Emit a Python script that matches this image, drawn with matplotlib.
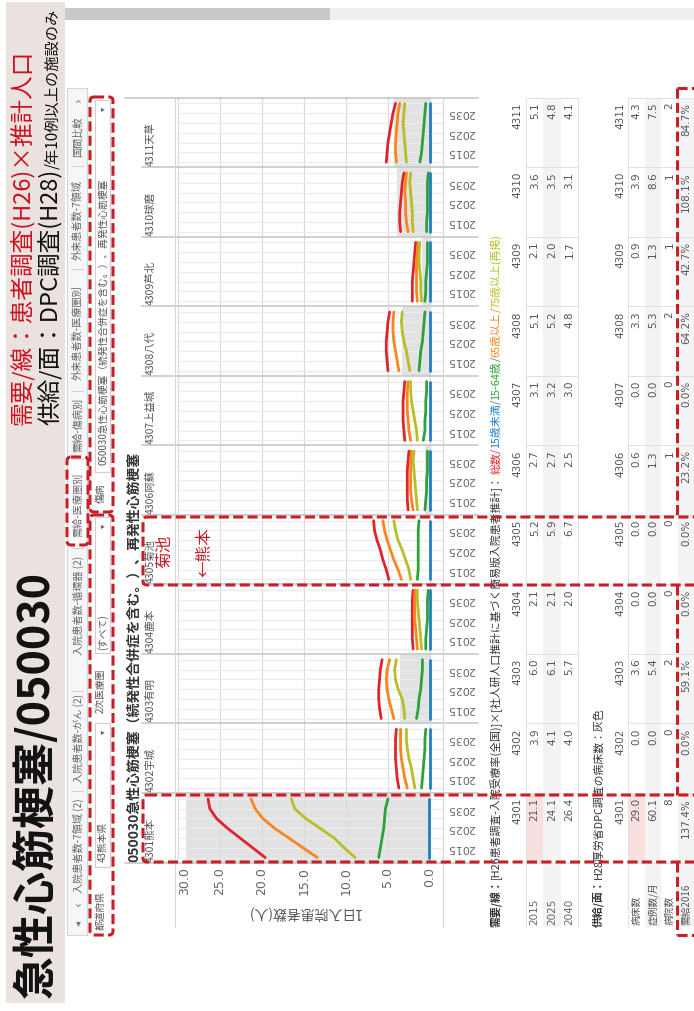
import matplotlib
matplotlib.use('Agg')
import matplotlib.pyplot as plt
from matplotlib.patches import Rectangle, FancyBboxPatch

plt.rcParams['font.family'] = ['Noto Sans CJK JP', 'DejaVu Sans']

W, H = 694, 1011

# ---- data ----
years = [2010, 2015, 2020, 2025, 2030, 2035, 2040]
label_years = [2015, 2025, 2035]
table_years = [2015, 2025, 2040]

area_codes = ['4301', '4302', '4303', '4304', '4305', '4306', '4307', '4308', '4309', '4310', '4311']
area_names = ['熊本', '宇城', '有明', '鹿本', '菊池', '阿蘇', '上益城', '八代', '芦北', '球磨', '天草']
highlight_area = '4301'

# 1日入院患者数 (推計) per area, per year
total = [
    [19.6, 21.1, 22.6, 24.1, 25.4, 26.2, 26.4],
    [3.7, 3.9, 4.0, 4.1, 4.1, 4.1, 4.0],
    [5.8, 6.0, 6.1, 6.1, 6.0, 5.9, 5.7],
    [2.0, 2.1, 2.1, 2.1, 2.1, 2.1, 2.0],
    [4.9, 5.2, 5.6, 5.9, 6.3, 6.6, 6.7],
    [2.6, 2.7, 2.7, 2.7, 2.7, 2.6, 2.5],
    [3.0, 3.1, 3.2, 3.2, 3.2, 3.1, 3.0],
    [5.0, 5.1, 5.2, 5.2, 5.1, 5.0, 4.8],
    [2.1, 2.1, 2.1, 2.0, 1.9, 1.8, 1.7],
    [3.5, 3.6, 3.6, 3.5, 3.4, 3.3, 3.1],
    [5.2, 5.1, 5.0, 4.8, 4.6, 4.4, 4.1],
]
over65 = [
    [13.4, 15.1, 16.8, 18.5, 19.9, 20.8, 21.3],
    [2.7, 3.0, 3.2, 3.4, 3.5, 3.5, 3.5],
    [4.3, 4.6, 4.9, 5.1, 5.2, 5.1, 4.8],
    [1.5, 1.6, 1.7, 1.8, 1.8, 1.8, 1.8],
    [3.4, 3.8, 4.3, 4.7, 5.1, 5.4, 5.6],
    [2.0, 2.2, 2.3, 2.3, 2.3, 2.3, 2.2],
    [2.3, 2.5, 2.6, 2.7, 2.7, 2.7, 2.6],
    [3.7, 3.9, 4.1, 4.3, 4.4, 4.4, 4.3],
    [1.5, 1.6, 1.6, 1.6, 1.6, 1.5, 1.4],
    [2.6, 2.8, 2.9, 2.9, 3.0, 2.9, 2.8],
    [4.0, 4.1, 4.1, 4.0, 3.9, 3.8, 3.6],
]
over75 = [
    [8.9, 10.2, 11.4, 13.1, 14.8, 16.1, 16.5],
    [1.8, 2.0, 2.2, 2.5, 2.7, 2.8, 2.8],
    [3.0, 3.1, 3.3, 3.8, 4.1, 4.2, 4.0],
    [1.0, 1.1, 1.2, 1.3, 1.4, 1.5, 1.5],
    [2.3, 2.5, 2.9, 3.3, 3.8, 4.1, 4.3],
    [1.5, 1.6, 1.7, 1.8, 1.9, 2.0, 1.9],
    [1.5, 1.6, 1.8, 2.0, 2.2, 2.3, 2.3],
    [2.4, 2.6, 2.8, 3.1, 3.3, 3.4, 3.3],
    [1.0, 1.1, 1.1, 1.2, 1.3, 1.3, 1.2],
    [2.0, 2.1, 2.1, 2.2, 2.3, 2.4, 2.3],
    [2.8, 2.9, 3.0, 3.1, 3.2, 3.1, 3.0],
]
age15_64 = [
    [6.1, 5.9, 5.7, 5.5, 5.4, 5.3, 5.0],
    [1.0, 0.9, 0.8, 0.7, 0.6, 0.6, 0.5],
    [1.6, 1.4, 1.3, 1.1, 1.0, 0.9, 0.9],
    [0.5, 0.5, 0.4, 0.3, 0.3, 0.3, 0.2],
    [1.5, 1.4, 1.4, 1.4, 1.4, 1.4, 1.3],
    [0.6, 0.5, 0.4, 0.4, 0.3, 0.3, 0.3],
    [0.8, 0.6, 0.6, 0.5, 0.5, 0.4, 0.4],
    [1.3, 1.2, 1.1, 0.9, 0.8, 0.7, 0.6],
    [0.6, 0.5, 0.5, 0.4, 0.3, 0.3, 0.3],
    [0.4, 0.4, 0.3, 0.3, 0.3, 0.3, 0.2],
    [1.2, 1.0, 0.9, 0.8, 0.7, 0.6, 0.5],
]
under15 = [
    [0.1, 0.1, 0.1, 0.1, 0.1, 0.1, 0.1],
    [0.02, 0.02, 0.02, 0.02, 0.02, 0.02, 0.02],
    [0.05, 0.05, 0.05, 0.05, 0.05, 0.05, 0.05],
    [0.03, 0.03, 0.03, 0.03, 0.03, 0.03, 0.03],
    [0.05, 0.05, 0.05, 0.05, 0.05, 0.05, 0.05],
    [0.02, 0.02, 0.02, 0.02, 0.02, 0.02, 0.02],
    [0.03, 0.03, 0.03, 0.03, 0.03, 0.03, 0.03],
    [0.05, 0.05, 0.05, 0.05, 0.05, 0.05, 0.05],
    [0.02, 0.02, 0.02, 0.02, 0.02, 0.02, 0.02],
    [0.02, 0.02, 0.02, 0.02, 0.02, 0.02, 0.02],
    [0.05, 0.05, 0.05, 0.05, 0.05, 0.05, 0.05],
]

# 供給 (H28 DPC調査)
beds = [29.0, 0.0, 3.6, 0.0, 0.0, 0.6, 0.0, 3.3, 0.9, 3.9, 4.3]
cases = [60.1, 0.0, 5.4, 0.0, 0.0, 1.3, 0.0, 5.3, 1.3, 8.6, 7.5]
hospitals = [8, 0, 2, 0, 0, 1, 0, 2, 1, 1, 2]
balance = [137.4, 0.0, 59.1, 0.0, 0.0, 23.2, 0.0, 64.2, 42.7, 108.1, 84.7]

RED = '#e0242b'
ORANGE = '#f7861f'
OLIVE = '#b8be24'
GREEN = '#2ca33a'
BLUE = '#1f7fc1'
MARK = '#c81e28'
series = [(total, RED), (over65, ORANGE), (over75, OLIVE), (age15_64, GREEN), (under15, BLUE)]

fig = plt.figure(figsize=(W / 100, H / 100), dpi=100)
r = fig.canvas.get_renderer()


def px_axes(x0, y0, x1, y1, **kw):
    return fig.add_axes([x0 / W, 1 - y1 / H, (x1 - x0) / W, (y1 - y0) / H], **kw)


def pixel_layer(z):
    a = px_axes(0, 0, W, H, zorder=z)
    a.set_xlim(0, W)
    a.set_ylim(H, 0)
    a.axis('off')
    a.patch.set_alpha(0)
    return a


def seq_text(ax, x, y, parts, va='center', **kw):
    # rotated text pieces running upward from y
    for s, style in parts:
        opts = dict(kw)
        opts.update(style)
        t = ax.text(x, y, s, rotation=90, rotation_mode='anchor', ha='left', va=va, **opts)
        y -= t.get_window_extent(r).height
    return y


bg = pixel_layer(0)

# title strip
bg.add_patch(Rectangle((6, 2), 59, 1001, color='#e9e2df', lw=0))
seq_text(bg, 49, 998, [('急性心筋梗塞/050030', {})], va='baseline', size=31, weight='bold', color='#111111')
seq_text(bg, 29, 425, [('需要/線：患者調査(H26)×推計人口', {})], va='baseline', size=17, color='#cc1020')
seq_text(bg, 57, 425, [('供給/面：DPC調査(H28)', {'size': 17}), ('/年10例以上の施設のみ', {'size': 11})],
         va='baseline', color='#111111')

# scrollbar
bg.add_patch(Rectangle((65, 8), 265, 12, color='#c9c9c9', lw=0))
bg.add_patch(Rectangle((330, 8), 364, 12, color='#efefef', lw=0))

# tab strip
bg.add_patch(Rectangle((67, 88), 20, 847, fc='#f6f6f6', ec='#d5d5d5', lw=0.8))
bg.add_patch(Rectangle((68, 458), 19, 86, fc='white', lw=0))
tabs = [('入院患者数-7領域 (2)', 893), ('入院患者数-がん (2)', 783), ('入院患者数-循環器 (2)', 655),
        ('需給-医療圏別', 537), ('需給-傷病別', 452), ('外来患者数-医療圏別', 380),
        ('外来患者数-7領域', 260), ('国間比較', 157)]
for name, yb in tabs:
    bg.text(78, yb, name, rotation=90, ha='center', va='bottom', size=7.3, color='#666666')
for yb in [790, 690, 547, 458, 390, 268, 165]:
    bg.text(78, yb, '|', rotation=90, ha='center', va='center', size=7, color='#bbbbbb')
bg.text(78, 923, '▾', ha='center', va='center', size=7, color='#777777', family='DejaVu Sans')
bg.text(78, 903, '‹', ha='center', va='center', size=9, color='#777777', rotation=90, family='DejaVu Sans')
bg.text(78, 99, '›', ha='center', va='center', size=9, color='#777777', rotation=90, family='DejaVu Sans')

# filters
for y0, y1 in [(723, 867), (517, 653), (100, 472)]:
    bg.add_patch(Rectangle((95, y0), 15, y1 - y0, fc='white', ec='#cfcfcf', lw=0.8))
    bg.text(103, y0 + 9, '▾', ha='center', va='center', size=6, color='#666666', family='DejaVu Sans', rotation=90)
filters = [('都道府県', 101, 930), ('43熊本県', 103, 862), ('2次医療圏', 101, 713), ('(すべて)', 103, 650),
           ('傷病', 101, 503), ('050030急性心筋梗塞（続発性合併症を含む。）、再発性心筋梗塞', 103, 465)]
for name, x, yb in filters:
    bg.text(x, yb, name, rotation=90, ha='center', va='bottom', size=7, color='#555555')

# ---- chart panels ----
top, bot = 97.5, 862.5
ph = (bot - top) / len(area_codes)
px0, px1 = 177, 443

bg.text(134, bot, '050030急性心筋梗塞（続発性合併症を含む。）、再発性心筋梗塞', rotation=90,
        ha='center', va='bottom', size=10, weight='bold', color='#333333')

axes = []
for i, code in enumerate(area_codes):
    y1 = bot - ph * i
    y0 = y1 - ph
    ax = px_axes(px0, y0, px1, y1, zorder=2)
    ax.set_xlim(30.1, -1.55)
    ax.set_ylim(2007.5, 2043)
    if beds[i] > 0:
        ax.axvspan(0, beds[i], color='#e2e2e2', lw=0, zorder=1)
    for data, color in series:
        ax.plot(data[i], years, color=color, lw=2.0, solid_capstyle='round', zorder=3)
    ax.set_xticks(range(0, 31, 5))
    ax.set_yticks(range(2010, 2041, 5))
    ax.xaxis.grid(True, color='#d9d9d9', lw=0.8)
    ax.yaxis.grid(True, color='#ebebeb', lw=0.8)
    ax.set_axisbelow('line')
    ax.tick_params(length=0, labelbottom=False, labelleft=False)
    for s in ax.spines.values():
        s.set_visible(False)
    ax.patch.set_alpha(0)
    for yr in label_years:
        ax.text((461 - px0) / (px1 - px0), yr, str(yr), transform=ax.get_yaxis_transform(),
                rotation=180, ha='center', va='center', size=8, color='#666666', family='DejaVu Sans')
    bg.text(151, y1 - 1, code + area_names[i], rotation=90, ha='center', va='bottom', size=7.5, color='#555555')
    axes.append(ax)

# value axis labels (under first panel)
ax = axes[0]
for v in range(0, 31, 5):
    ax.text(v, -(867 - bot) / ph, f'{v:.1f}', transform=ax.get_xaxis_transform(), rotation=90,
            ha='left' if v == 30 else 'center', va='top', size=9, color='#666666', family='DejaVu Sans')
ax.text(15, -(913 - bot) / ph, '1日入院患者数(人)', transform=ax.get_xaxis_transform(), rotation=180,
        ha='center', va='center', size=10, color='#555555')

# ---- tables ----
t1_rows = [(526, 543.5), (543.5, 561), (561, 578)]
t2_rows = [(628, 645), (645, 661.5), (661.5, 678), (678, 694)]
for k, (a, b) in enumerate(t1_rows):
    if k % 2 == 1:
        bg.add_patch(Rectangle((a, top), b - a, 927 - top, color='#f3f3f3', lw=0))
for k, (a, b) in enumerate(t2_rows):
    if k % 2 == 1:
        bg.add_patch(Rectangle((a, top), b - a, 927 - top, color='#f3f3f3', lw=0))
hi = area_codes.index(highlight_area)
for a, b in [t1_rows[0], t2_rows[0]]:
    bg.add_patch(Rectangle((a, bot - ph * (hi + 1)), b - a, ph, color='#f8e0e0', lw=0))

seq_text(bg, 496, 927, [('需要/線：', {'weight': 'bold'}),
                        ('[H26患者調査-入院受療率(全国)]×[社人研人口推計に基づく簡易版入院患者推計]：', {}),
                        ('総数', {'color': RED}), ('/', {'color': RED}),
                        ('15歳未満', {'color': BLUE}), ('/', {'color': BLUE}),
                        ('15-64歳', {'color': GREEN}), ('/', {'color': GREEN}),
                        ('65歳以上', {'color': ORANGE}), ('/', {'color': ORANGE}),
                        ('75歳以上(再掲)', {'color': OLIVE})], size=7.8, color='#333333')
seq_text(bg, 598, 927, [('供給/面：', {'weight': 'bold'}), ('H28厚労省DPC調査の病床数：灰色', {})],
         size=7.8, color='#333333')

demand_rows = [[total[i][years.index(yr)] for i in range(len(area_codes))] for yr in table_years]
supply_rows = [[f'{v:.1f}' for v in beds], [f'{v:.1f}' for v in cases],
               [str(v) for v in hospitals], [f'{v:.1f}%' for v in balance]]
num = dict(rotation=90, ha='center', va='top', size=7.5, color='#555555', family='DejaVu Sans')
for i, code in enumerate(area_codes):
    yt = bot - ph * (i + 1) + 5
    bg.text(517, yt, code, **num)
    bg.text(620, yt, code, **num)
    for k, (a, b) in enumerate(t1_rows):
        bg.text((a + b) / 2, yt, f'{demand_rows[k][i]:.1f}', **num)
    for k, (a, b) in enumerate(t2_rows):
        bg.text((a + b) / 2, yt, supply_rows[k][i], **num)
for k, (a, b) in enumerate(t1_rows):
    bg.text((a + b) / 2, 925, str(table_years[k]), rotation=90, ha='center', va='bottom', size=7.5,
            color='#666666', family='DejaVu Sans')
for k, (a, b) in enumerate(t2_rows):
    bg.text((a + b) / 2, 925, ['病床数', '症例数/月', '病院数', '需給2016'][k], rotation=90,
            ha='center', va='bottom', size=7, color='#555555')

# ---- grid frame lines above panels ----
ov = pixel_layer(5)
for i in range(len(area_codes) + 1):
    yb = bot - ph * i
    x_start = 125 if i in (0, len(area_codes)) else 142
    ov.plot([x_start, 478], [yb, yb], color='#c4c4c4', lw=1.1)
    ov.plot([526, 578], [yb, yb], color='#e0e0e0', lw=0.7)
    ov.plot([628, 694], [yb, yb], color='#e0e0e0', lw=0.7)
for x in [175, 443]:
    ov.plot([x, x], [top, 927], color='#d6d6d6', lw=0.8)
for x in [526, 578, 628]:
    ov.plot([x, x], [top, 927], color='#e2e2e2', lw=0.7)

# ---- red annotations ----
mk = pixel_layer(10)
dash = (0, (3.3, 1.4))
for x0, y0, x1, y1 in [(90, 97, 113, 512), (90, 515, 113, 935), (67, 457, 88, 545),
                       (143, 517, 720, 585), (143, 795, 720, 862)]:
    mk.add_patch(FancyBboxPatch((x0, y0), x1 - x0, y1 - y0, boxstyle='round,pad=0,rounding_size=4',
                                fill=False, ec=MARK, lw=2.2, ls=dash))
for ya, yb in [(88, 517), (585, 795), (862, 935)]:
    mk.plot([677, 677], [ya, yb], color=MARK, lw=2.2, ls=dash)
mk.plot([677, 700], [88, 88], color=MARK, lw=2.2, ls=dash)
mk.plot([677, 700], [935, 935], color=MARK, lw=2.2, ls=dash)
mk.text(165, 551, '菊池', rotation=90, ha='center', va='center', size=12, color=MARK)
mk.text(205, 552, '←熊本', rotation=90, ha='center', va='center', size=12, color=MARK)

fig.savefig('out.png', dpi=100)
